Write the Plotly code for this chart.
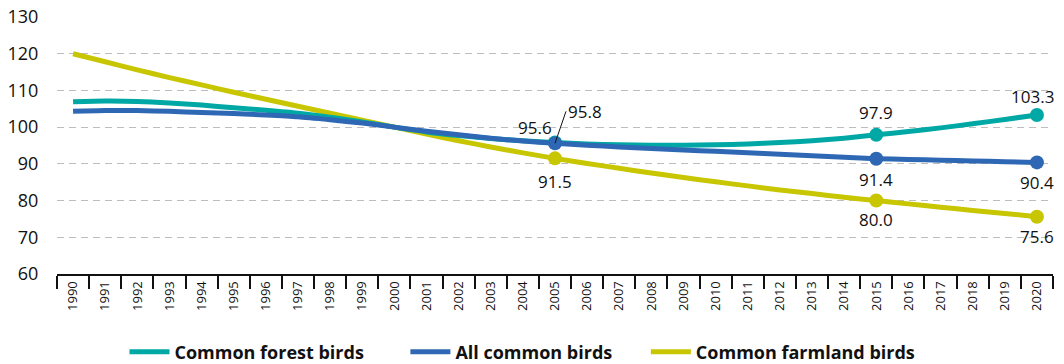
import plotly.graph_objects as go

years = [str(y) for y in range(1990, 2021)]

forest = [106.9, 107.1, 107.0, 106.6, 106.0, 105.3, 104.6, 103.8, 102.7, 101.4,
          100.0, 98.7, 97.7, 96.9, 96.3, 95.8, 95.4, 95.2, 95.1, 95.1,
          95.2, 95.4, 95.8, 96.3, 97.0, 97.9, 98.8, 99.8, 100.9, 102.1, 103.3]
all_common = [104.3, 104.5, 104.5, 104.3, 104.0, 103.7, 103.3, 102.8, 102.0, 101.1,
              100.0, 98.9, 97.9, 97.0, 96.2, 95.6, 95.1, 94.6, 94.2, 93.8,
              93.4, 93.0, 92.6, 92.2, 91.8, 91.4, 91.2, 91.0, 90.8, 90.6, 90.4]
farmland = [120.0, 117.8, 115.6, 113.5, 111.5, 109.5, 107.6, 105.7, 103.8, 101.9,
            100.0, 98.1, 96.3, 94.6, 93.0, 91.5, 90.1, 88.8, 87.5, 86.3,
            85.1, 84.0, 82.9, 81.9, 80.9, 80.0, 79.1, 78.2, 77.3, 76.5, 75.6]

marked_years = ["2005", "2015", "2020"]
y_ticks = [60, 70, 80, 90, 100, 110, 120, 130]

# name, values, colour, legend id, legend x (container fraction)
series = [
    ("Common farmland birds", farmland, "#C7C600", "legend3", 0.607),
    ("Common forest birds", forest, "#00A8A5", "legend", 0.117),
    ("All common birds", all_common, "#2E68B4", "legend2", 0.381),
]

FONT = "Open Sans"
fig = go.Figure()
for name, vals, color, leg, lx in series:
    fig.add_trace(go.Scatter(
        x=years, y=vals, mode="lines", name=name, legend=leg,
        line=dict(color=color, width=5, shape="spline", smoothing=0.6),
    ))
for name, vals, color, leg, lx in series:
    fig.add_trace(go.Scatter(
        x=marked_years, y=[vals[years.index(y)] for y in marked_years],
        mode="markers", showlegend=False, hoverinfo="skip",
        marker=dict(color=color, size=14),
    ))

def idx(y):
    return years.index(y)

labels = [
    ("2015", forest[idx("2015")], 0, 22),
    ("2020", forest[idx("2020")], -4, 19),
    ("2015", all_common[idx("2015")], 0, -21),
    ("2020", all_common[idx("2020")], 0, -20),
    ("2005", farmland[idx("2005")], 0, -23),
    ("2015", farmland[idx("2015")], 0, -19),
    ("2020", farmland[idx("2020")], 0, -20),
    ("2005", all_common[idx("2005")], -20, 16),
]
annotations = []
for x, v, xs, ys in labels:
    annotations.append(dict(
        xref="x", yref="y", x=idx(x), y=v, text="%.1f" % v, showarrow=False,
        xshift=xs, yshift=ys, font=dict(family=FONT, size=17, color="#111111")))

annotations.append(dict(
    xref="x", yref="y", x=idx("2005"), y=all_common[idx("2005")],
    text="%.1f" % forest[idx("2005")],
    showarrow=True, arrowhead=0, arrowwidth=1, arrowcolor="#111111",
    ax=11, ay=-32, xanchor="left", yanchor="middle",
    font=dict(family=FONT, size=17, color="#111111")))

legend_style = dict(orientation="h", xref="container", yref="container",
                    xanchor="left", y=0.033, yanchor="middle",
                    font=dict(family=FONT, size=18, color="#111111", weight="bold"),
                    itemwidth=40, bgcolor="rgba(0,0,0,0)")
legends = {}
for name, vals, color, leg, lx in series:
    legends[leg] = dict(legend_style, x=lx)

fig.update_layout(
    width=1064, height=364,
    margin=dict(l=57, r=11, t=17, b=90, autoexpand=False),
    plot_bgcolor="white", paper_bgcolor="white",
    font=dict(family=FONT, color="#111111"),
    showlegend=True,
    annotations=annotations,
    **legends,
)
fig.update_xaxes(
    type="category", tickson="boundaries", ticks="outside", ticklen=13,
    tickwidth=2, tickcolor="#111111", showline=True, linecolor="#111111", linewidth=2,
    tickangle=-90, tickfont=dict(family=FONT, size=13, color="#111111"),
    showgrid=False, range=[-0.5, len(years) - 0.5], automargin=False,
)
fig.update_yaxes(
    range=[60, 130], tickvals=y_ticks, showgrid=True, gridcolor="#BDBDBD",
    griddash="7px,5px", gridwidth=1, zeroline=False, showline=False,
    tickfont=dict(family=FONT, size=18, color="#111111"), ticks="outside",
    ticklen=14, tickcolor="rgba(0,0,0,0)", automargin=False,
)

fig.write_html(
    "out.html",
    config={"displayModeBar": False},
    post_script="document.body.style.margin='0';document.body.style.padding='0';document.body.style.overflow='hidden';",
)
